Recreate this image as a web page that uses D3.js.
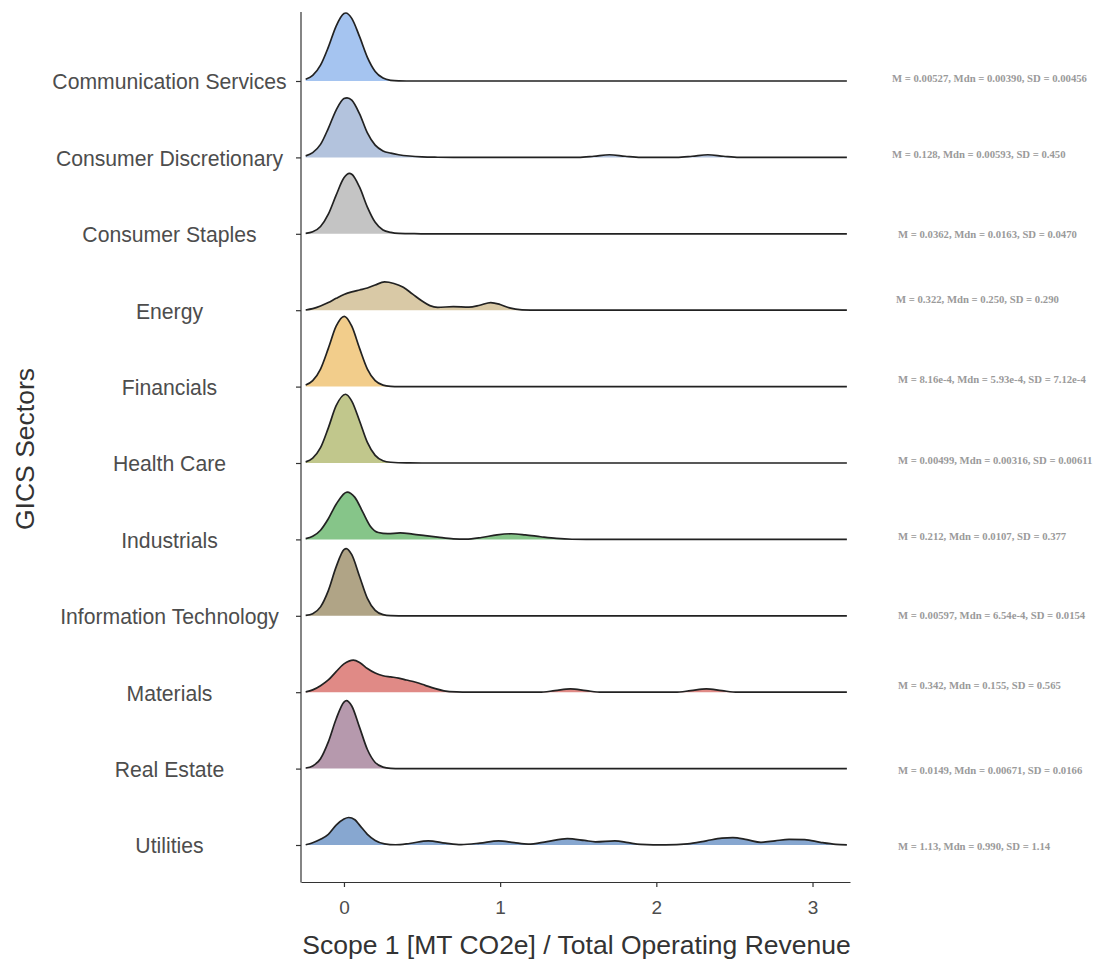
<!DOCTYPE html>
<html>
<head>
<meta charset="utf-8">
<script src="https://cdn.jsdelivr.net/npm/d3@7"></script>
<style>
  body { margin: 0; background: #fff; }
  svg { display: block; }
</style>
</head>
<body>
<svg id="chart" width="1096" height="963"></svg>
<script>
// ---- data -------------------------------------------------------------
const sectors = [
  "Communication Services", "Consumer Discretionary", "Consumer Staples",
  "Energy", "Financials", "Health Care", "Industrials",
  "Information Technology", "Materials", "Real Estate", "Utilities"
];

const sectorFills = [
  "#a5c4f0", "#b3c3dd", "#c4c4c4", "#d9c9a6", "#f2cd8b", "#c1c78c",
  "#86c589", "#b0a486", "#e08a86", "#b699ad", "#87a7d0"
];

const summaries = [
  "M = 0.00527, Mdn = 0.00390, SD = 0.00456",
  "M = 0.128, Mdn = 0.00593, SD = 0.450",
  "M = 0.0362, Mdn = 0.0163, SD = 0.0470",
  "M = 0.322, Mdn = 0.250, SD = 0.290",
  "M = 8.16e-4, Mdn = 5.93e-4, SD = 7.12e-4",
  "M = 0.00499, Mdn = 0.00316, SD = 0.00611",
  "M = 0.212, Mdn = 0.0107, SD = 0.377",
  "M = 0.00597, Mdn = 6.54e-4, SD = 0.0154",
  "M = 0.342, Mdn = 0.155, SD = 0.565",
  "M = 0.0149, Mdn = 0.00671, SD = 0.0166",
  "M = 1.13, Mdn = 0.990, SD = 1.14"
];

const xTicks = [0, 1, 2, 3];
const xTitle = "Scope 1 [MT CO2e] / Total Operating Revenue";
const yTitle = "GICS Sectors";

// Scaled density per sector: [ratio, height relative to row spacing]
const commServices = [[-0.245,0.023],[-0.2,0.073],[-0.15,0.207],[-0.1,0.443],[-0.05,0.719],[0,0.883],[0.012,0.89],[0.05,0.82],[0.1,0.58],[0.15,0.31],[0.2,0.125],[0.25,0.038],[0.3,0.009],[0.35,0.0015],[0.4,0],[3.22,0]];
const consDiscretionary = [[-0.245,0.02],[-0.2,0.062],[-0.15,0.17],[-0.1,0.38],[-0.05,0.62],[0,0.77],[0.02,0.78],[0.05,0.75],[0.1,0.57],[0.15,0.32],[0.2,0.16],[0.25,0.085],[0.3,0.055],[0.35,0.035],[0.42,0.018],[0.5,0.007],[0.6,0.002],[0.7,0],[1.5,0],[1.6,0.015],[1.7,0.035],[1.8,0.015],[1.9,0],[2.13,0],[2.23,0.015],[2.33,0.035],[2.43,0.015],[2.53,0],[3.22,0]];
const consStaples = [[-0.245,0.006],[-0.2,0.026],[-0.15,0.096],[-0.1,0.257],[-0.05,0.506],[0,0.733],[0.035,0.79],[0.05,0.78],[0.1,0.61],[0.15,0.35],[0.2,0.15],[0.25,0.05],[0.3,0.018],[0.35,0.005],[0.45,0.001],[0.55,0],[3.22,0]];
const energy = [[-0.245,0.003],[-0.2,0.02],[-0.15,0.055],[-0.1,0.1],[-0.05,0.155],[0,0.205],[0.05,0.24],[0.1,0.265],[0.15,0.29],[0.2,0.33],[0.26,0.37],[0.32,0.35],[0.38,0.3],[0.44,0.21],[0.5,0.12],[0.55,0.06],[0.6,0.038],[0.7,0.046],[0.8,0.04],[0.87,0.065],[0.94,0.1],[1.0,0.075],[1.06,0.03],[1.14,0.005],[1.25,0],[3.22,0]];
const financials = [[-0.245,0.02],[-0.2,0.078],[-0.15,0.23],[-0.1,0.5],[-0.05,0.79],[0.002,0.92],[0.05,0.79],[0.1,0.5],[0.15,0.23],[0.2,0.078],[0.25,0.02],[0.3,0.004],[0.35,0],[3.22,0]];
const healthCare = [[-0.245,0.015],[-0.2,0.065],[-0.15,0.2],[-0.1,0.46],[-0.05,0.75],[0.01,0.9],[0.05,0.81],[0.1,0.55],[0.15,0.27],[0.2,0.1],[0.25,0.03],[0.3,0.01],[0.4,0.001],[0.5,0],[3.22,0]];
const industrials = [[-0.245,0.01],[-0.2,0.04],[-0.15,0.12],[-0.1,0.27],[-0.05,0.46],[0.02,0.62],[0.07,0.55],[0.12,0.36],[0.17,0.17],[0.22,0.09],[0.28,0.075],[0.36,0.085],[0.44,0.07],[0.52,0.05],[0.6,0.03],[0.7,0.008],[0.78,0.004],[0.88,0.025],[0.98,0.06],[1.07,0.074],[1.16,0.06],[1.26,0.035],[1.36,0.013],[1.46,0.002],[1.55,0],[3.22,0]];
const infoTech = [[-0.245,0.006],[-0.2,0.028],[-0.15,0.117],[-0.1,0.33],[-0.05,0.64],[0,0.865],[0.015,0.88],[0.05,0.8],[0.1,0.515],[0.15,0.228],[0.2,0.07],[0.25,0.015],[0.3,0.002],[0.35,0],[3.22,0]];
const materials = [[-0.245,0.005],[-0.2,0.03],[-0.15,0.085],[-0.1,0.16],[-0.05,0.27],[0,0.37],[0.06,0.42],[0.1,0.39],[0.15,0.31],[0.2,0.25],[0.25,0.215],[0.3,0.2],[0.35,0.185],[0.4,0.16],[0.46,0.13],[0.52,0.09],[0.58,0.05],[0.64,0.018],[0.72,0.003],[0.8,0],[1.25,0],[1.35,0.02],[1.45,0.044],[1.55,0.02],[1.65,0],[2.12,0],[2.22,0.02],[2.32,0.044],[2.42,0.02],[2.52,0],[3.22,0]];
const realEstate = [[-0.245,0.008],[-0.2,0.035],[-0.15,0.13],[-0.1,0.35],[-0.05,0.65],[0,0.87],[0.015,0.89],[0.05,0.82],[0.1,0.54],[0.15,0.25],[0.2,0.08],[0.25,0.02],[0.3,0.004],[0.36,0],[3.22,0]];
const utilities = [[-0.245,0.003],[-0.2,0.03],[-0.15,0.075],[-0.1,0.14],[-0.05,0.26],[0,0.34],[0.03,0.36],[0.07,0.33],[0.1,0.26],[0.15,0.14],[0.2,0.06],[0.26,0.015],[0.33,0.003],[0.42,0.02],[0.54,0.055],[0.65,0.025],[0.75,0.006],[0.87,0.025],[0.99,0.055],[1.09,0.03],[1.18,0.012],[1.3,0.045],[1.43,0.083],[1.54,0.06],[1.61,0.042],[1.735,0.055],[1.82,0.03],[1.9,0.008],[2.06,0.001],[2.2,0.015],[2.32,0.055],[2.42,0.09],[2.49,0.097],[2.58,0.07],[2.67,0.035],[2.76,0.055],[2.85,0.074],[2.95,0.07],[3.05,0.035],[3.15,0.008],[3.22,0.002]];

const ridgeData = [
  commServices, consDiscretionary, consStaples, energy, financials,
  healthCare, industrials, infoTech, materials, realEstate, utilities
];

// ---- layout -----------------------------------------------------------
const svg = d3.select("#chart");
const panel = { left: 301, right: 850, top: 12, bottom: 882 };
const rowStep = 76.4;
const ink = "#333333";
const sansFont = "'Liberation Sans', Arial, Helvetica, sans-serif";

const x = d3.scaleLinear().domain([-0.275, 3.24]).range([panel.left, panel.right]);
const y = d3.scalePoint().domain(sectors).range([81, 81 + rowStep * (sectors.length - 1)]);
const h = d3.scaleLinear().domain([0, 1]).range([0, rowStep]);

// small vertical nudges for the summary captions
const captionNudge = [-3, -3, 0, -11, -7, -3, -3, -1, -7, 2, 1];
const captionIndent = [0, 0, 6, 4, 6, 6, 6, 6, 6, 6, 6];

// ---- ridges -----------------------------------------------------------
const ridges = svg.append("g").attr("class", "ridges");
sectors.forEach((s, i) => {
  const base = y(s);
  const area = d3.area()
    .x(d => x(d[0]))
    .y0(base)
    .y1(d => base - h(d[1]))
    .curve(d3.curveMonotoneX);
  const line = d3.line()
    .x(d => x(d[0]))
    .y(d => base - h(d[1]))
    .curve(d3.curveMonotoneX);
  const g = ridges.append("g");
  g.append("path").datum(ridgeData[i])
    .attr("d", area)
    .attr("fill", sectorFills[i]);
  g.append("path").datum(ridgeData[i])
    .attr("d", line)
    .attr("fill", "none")
    .attr("stroke", "#222")
    .attr("stroke-width", 1.7)
    .attr("stroke-linejoin", "round");
});

// ---- axes -------------------------------------------------------------
const xAxis = svg.append("g")
  .attr("transform", `translate(0,${panel.bottom})`)
  .call(d3.axisBottom(x).tickValues(xTicks).tickFormat(d3.format("d")).tickSize(5).tickSizeOuter(0).tickPadding(14));
xAxis.select(".domain").attr("stroke", ink).attr("stroke-width", 1.2);
xAxis.selectAll(".tick line").attr("stroke", ink).attr("stroke-width", 1.2);
xAxis.selectAll(".tick text")
  .attr("fill", "#4d4d4d")
  .style("font-family", sansFont)
  .style("font-size", "19px");

const yAxis = svg.append("g")
  .attr("transform", `translate(${panel.left},0)`)
  .call(d3.axisLeft(y).tickSize(5).tickSizeOuter(0).tickFormat(""));
yAxis.select(".domain").remove();
yAxis.selectAll(".tick line").attr("stroke", ink).attr("stroke-width", 1.2);
svg.append("line")
  .attr("x1", panel.left).attr("x2", panel.left)
  .attr("y1", panel.top).attr("y2", panel.bottom + 0.6)
  .attr("stroke", ink).attr("stroke-width", 1.2);

// sector names, centred in the left margin
svg.append("g").selectAll("text")
  .data(sectors)
  .join("text")
  .attr("x", 169.5)
  .attr("y", d => y(d) + 1)
  .attr("dy", "0.35em")
  .attr("text-anchor", "middle")
  .attr("fill", "#4d4d4d")
  .style("font-family", sansFont)
  .style("font-size", "21.2px")
  .text(d => d);

// axis titles
svg.append("text")
  .attr("x", (panel.left + panel.right) / 2 + 1)
  .attr("y", 954)
  .attr("text-anchor", "middle")
  .attr("fill", "#333")
  .style("font-family", sansFont)
  .style("font-size", "26.5px")
  .text(xTitle);

svg.append("text")
  .attr("transform", `translate(34,${(panel.top + panel.bottom) / 2 + 2}) rotate(-90)`)
  .attr("text-anchor", "middle")
  .attr("fill", "#333")
  .style("font-family", sansFont)
  .style("font-size", "26.5px")
  .text(yTitle);

// summary statistics beside each ridge
svg.append("g").selectAll("text")
  .data(summaries)
  .join("text")
  .attr("x", (d, i) => 892 + captionIndent[i])
  .attr("y", (d, i) => y(sectors[i]) + captionNudge[i])
  .attr("dy", "0.35em")
  .attr("fill", "#9a9a9a")
  .style("font-family", "'Liberation Serif', 'Times New Roman', serif")
  .style("font-weight", "bold")
  .style("font-size", "10.7px")
  .text(d => d);
</script>
</body>
</html>
